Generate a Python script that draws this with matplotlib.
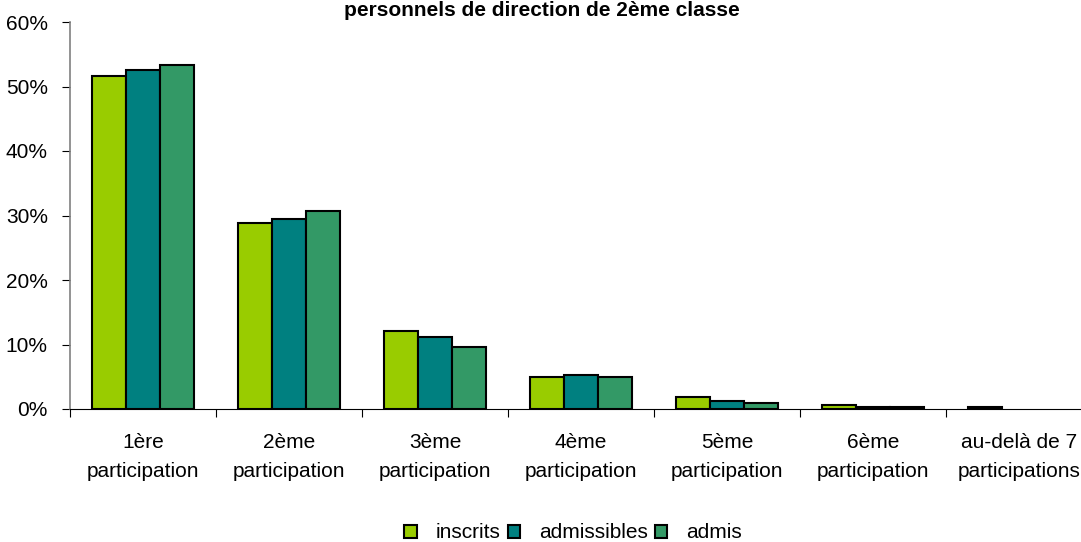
import matplotlib.pyplot as plt
import numpy as np
from matplotlib.ticker import FuncFormatter

plt.rcParams['font.family'] = ['Liberation Sans', 'DejaVu Sans']

categories = ['1ère\nparticipation', '2ème\nparticipation', '3ème\nparticipation',
              '4ème\nparticipation', '5ème\nparticipation', '6ème\nparticipation',
              'au-delà de 7\nparticipations']
inscrits = [51.6, 28.8, 12.1, 5.0, 1.9, 0.6, 0.3]
admissibles = [52.6, 29.5, 11.2, 5.3, 1.2, 0.3, 0.0]
admis = [53.3, 30.7, 9.6, 5.0, 0.9, 0.3, 0.0]

series = [('inscrits', inscrits, '#99cc00'),
          ('admissibles', admissibles, '#008080'),
          ('admis', admis, '#339966')]

fig = plt.figure(figsize=(10.81, 5.42), dpi=100)
ax = fig.add_axes([70 / 1081, (542 - 409) / 542, 1022 / 1081, 387 / 542])

x = np.arange(len(categories))
width = 0.232
for i, (name, vals, col) in enumerate(series):
    bars = ax.bar(x + (i - 1) * width, vals, width, color=col, edgecolor='black',
                  linewidth=1.5, label=name)
    # empty values draw nothing
    for b, v in zip(bars, vals):
        if v == 0:
            b.set_visible(False)

ax.set_xlim(-0.5, len(categories) - 0.5)
ax.set_ylim(0, 60)
ax.set_yticks(np.arange(0, 61, 10))
ax.yaxis.set_major_formatter(FuncFormatter(lambda v, p: f'{v:.0f}%'))

# boundaries as major ticks, labels on minor ticks at group centres
ax.set_xticks(np.arange(len(categories) + 1) - 0.5)
ax.set_xticklabels([])
ax.set_xticks(x, minor=True)
ax.set_xticklabels(categories, minor=True, fontsize=15, linespacing=1.7)
ax.tick_params(axis='x', which='major', length=6, color='black')
ax.tick_params(axis='x', which='minor', length=0, pad=17)
ax.tick_params(axis='y', labelsize=15, length=6, pad=10, color='black')

for s in ['top', 'right']:
    ax.spines[s].set_visible(False)
ax.spines['left'].set_color('#808080')
ax.spines['left'].set_linewidth(1.2)
ax.spines['bottom'].set_color('black')

fig.text(542 / 1081, 1 - 11 / 542, 'personnels de direction de 2ème classe',
         ha='center', va='center', fontsize=15, fontweight='bold')

fig.legend(loc='center', bbox_to_anchor=(573 / 1081, 1 - 533 / 542), ncol=3,
           frameon=False, fontsize=15, handlelength=0.6, handleheight=0.6,
           handletextpad=0.9, columnspacing=0.35)

fig.savefig('out.png', dpi=100)
